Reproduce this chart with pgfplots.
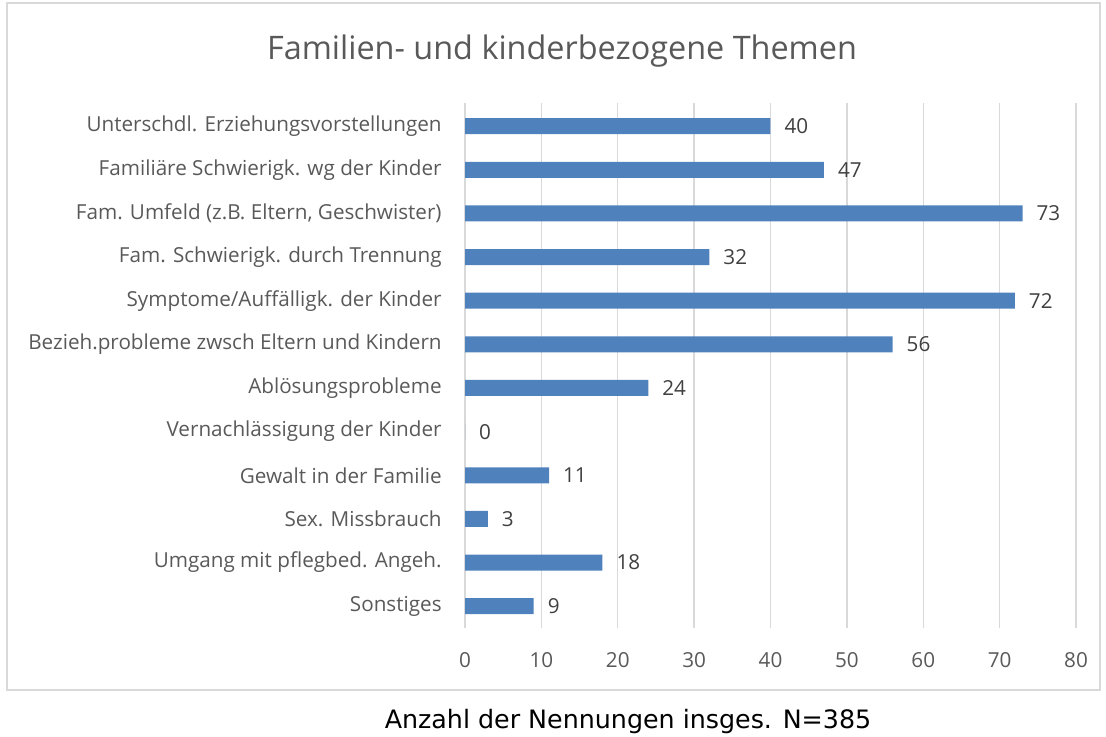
\documentclass[border=0pt]{standalone}
\usepackage{fontspec}
\setmainfont{Open Sans}
\newfontfamily\labfont{DejaVu Sans}
\usepackage{pgfplots}
\pgfplotsset{compat=1.18}
\definecolor{barblue}{HTML}{4F81BD}
\definecolor{gridgray}{HTML}{D9D9D9}
\definecolor{txtgray}{HTML}{595959}
\definecolor{lblgray}{HTML}{404040}

\begin{document}
\begin{tikzpicture}
\path[use as bounding box] (0pt,0pt) rectangle (829.5pt,-552.75pt);
\draw[gridgray,line width=1pt] (5.25pt,-2.25pt) rectangle (825pt,-517.5pt);
\node[txtgray,font=\fontsize{24.3}{28}\selectfont] at (421.5pt,-38.5pt) {Familien- und kinderbezogene Themen};
\begin{axis}[at={(348.75pt,-471pt)},anchor=south west,
  scale only axis,width=458.25pt,height=393.75pt,
  xbar,bar width=12pt,
  xmin=0,xmax=80,ymin=-0.5,ymax=11.53,
  xtick={0,10,...,80},ytick=data,
  yticklabels={Sonstiges,Umgang mit pflegbed. Angeh.,Sex. Missbrauch,Gewalt in der Familie,Vernachlässigung der Kinder,Ablösungsprobleme,Bezieh.probleme zwsch Eltern und Kindern,Symptome/Auffälligk. der Kinder,Fam. Schwierigk. durch Trennung,{Fam. Umfeld (z.B. Eltern, Geschwister)},Familiäre Schwierigk. wg der Kinder,Unterschdl. Erziehungsvorstellungen},
  axis line style={draw=none},major tick length=0pt,
  xmajorgrids,grid style={gridgray,line width=1pt},
  tick label style={txtgray,font=\fontsize{15.5}{18}\selectfont},
  /pgf/number format/assume math mode=true,
  xticklabel style={yshift=-15pt},
  yticklabel style={xshift=-14pt},
  nodes near coords,
  nodes near coords style={lblgray,font=\fontsize{15.5}{18}\selectfont,anchor=west,xshift=7pt},
]
\addplot[fill=barblue,draw=none] coordinates {
(9,0) (18,1) (3,2) (11,3) (0,4) (24,5) (56,6) (72,7) (32,8) (73,9) (47,10) (40,11)};
\end{axis}
\node[black,font=\labfont\fontsize{19}{22}\selectfont] at (471pt,-541pt) {Anzahl der Nennungen insges. N=385};
\end{tikzpicture}
\end{document}
